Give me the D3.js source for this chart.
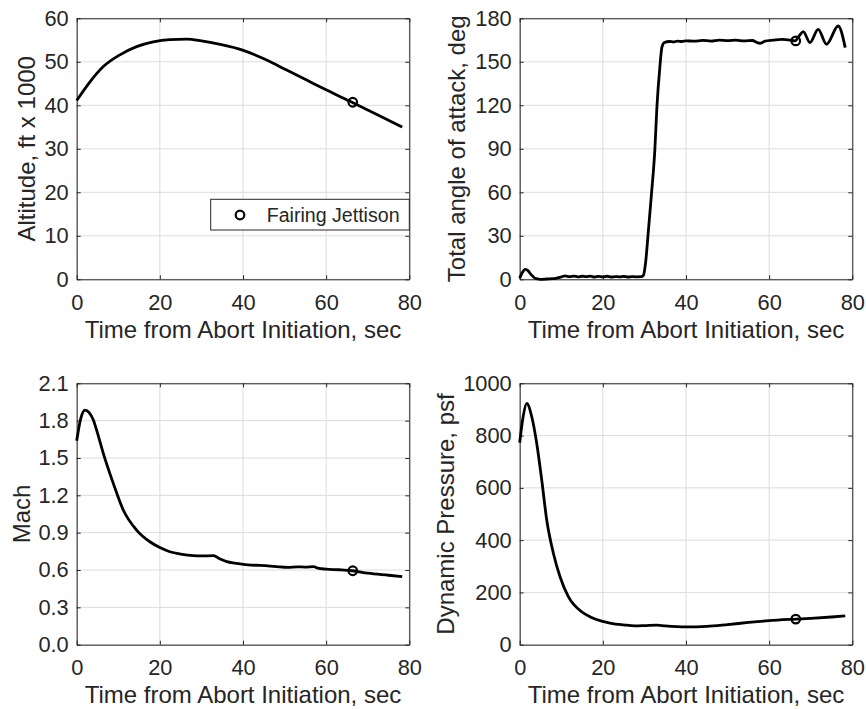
<!DOCTYPE html>
<html>
<head>
<meta charset="utf-8">
<script src="https://cdn.jsdelivr.net/npm/d3@7"></script>
<style>
  body { margin: 0; background: #fff; }
  text { font-family: "Liberation Sans", Arial, sans-serif; fill: #262626; }
</style>
</head>
<body>
<svg width="866" height="709"></svg>
<script>
// ---- data ----
var xTicks = [0, 20, 40, 60, 80];
var xLabel = "Time from Abort Initiation, sec";
var jettisonTime = 66.4;

var altTime  = [0, 3.2, 6.4, 10.4, 14.4, 18.4, 22.4, 26.5, 30, 34.5, 39.9, 45.7, 50.5, 55.3, 60.1, 66.2, 72.2, 78.3];
var altValue = [41.1, 45.4, 48.9, 51.6, 53.5, 54.6, 55.1, 55.2, 54.8, 54.0, 52.7, 50.4, 48.1, 45.8, 43.5, 40.7, 37.9, 35.0];
var altTicks = [0, 10, 20, 30, 40, 50, 60];
var altJettison = 40.7;

var aoaTime  = [0, 0.6, 1.3, 2, 2.5, 3.1, 3.7, 4.5, 5.3, 6.5, 8, 9, 10, 10.9, 12, 13, 14, 15, 16, 17, 18, 19, 20,
                21, 22, 23, 24, 25, 26, 27, 28, 29.3, 29.8, 30.3, 30.9, 31.7, 32.5, 33, 33.7, 34.2, 34.8, 36, 37,
                38, 39, 40, 42, 44, 46, 48, 50, 52, 54, 56, 57, 57.8, 59, 61, 63, 65, 66.2, 67.4, 68.2, 69.8,
                71.8, 73.8, 76.6, 78.3];
var aoaValue = [0.7, 4.5, 6.9, 6, 4.1, 2.2, 0.7, 0.2, 0, 0.2, 0.4, 0.9, 1.6, 2.3, 1.9, 2.2, 1.7, 2.1, 1.8, 2.2, 1.6,
                2.0, 1.7, 2.1, 1.6, 1.9, 1.7, 2.0, 1.6, 1.9, 1.7, 1.8, 3, 12, 31.6, 59, 89, 118.6,
                146, 160, 163.3, 164, 163.7, 164.3, 164, 164.5, 164.2, 164.8, 164.3, 165, 164.6, 164.9, 164.4,
                164.7, 163.4, 162.8, 164.2, 164.9, 165.4, 165, 164.4, 168.5, 170.8, 163.3,
                172.4, 162.1, 174.7, 159.8];
var aoaTicks = [0, 30, 60, 90, 120, 150, 180];
var aoaJettison = 164.4;

var machTime  = [0, 1, 2, 3, 4, 5, 6.4, 8.8, 11.2, 14.4, 17.6, 20, 22.4, 25, 28, 30, 32.9, 34.5, 36.1, 38, 40.1,
                 42, 44, 46.5, 48, 50.9, 53, 55, 57, 58, 60, 63, 66.3, 70, 75, 78.3];
var machValue = [1.639, 1.82, 1.885, 1.865, 1.805, 1.70, 1.537, 1.296, 1.082, 0.921, 0.827, 0.78, 0.747, 0.728,
                 0.715, 0.713, 0.715, 0.688, 0.667, 0.655, 0.646, 0.640, 0.637, 0.632, 0.628, 0.622, 0.625,
                 0.624, 0.627, 0.615, 0.607, 0.602, 0.594, 0.575, 0.558, 0.547];
var machTicks = [0, 0.3, 0.6, 0.9, 1.2, 1.5, 1.8, 2.1];
var machJettison = 0.594;

var qTime  = [0, 0.8, 1.7, 2.9, 4.1, 5.3, 6.5, 8.1, 9.7, 11.7, 14.9, 17, 19.7, 22, 25, 27.7, 30, 33, 35, 40,
              45, 50, 55, 60, 66.5, 70, 75, 78.3];
var qValue = [773, 870, 923, 872, 770, 630, 477, 350, 260, 184, 126, 106, 90, 82, 76, 72, 73, 75, 72, 68,
              70, 77, 85, 92, 98, 101, 106, 110];
var qTicks = [0, 200, 400, 600, 800, 1000];
var qJettison = 98;

var legendLabel = "Fairing Jettison";

// ---- layout ----
var svg = d3.select("svg");

var panels = [
  { t: altTime, v: altValue, ticks: altTicks, mark: altJettison, fmt: d3.format("d"),
    label: "Altitude, ft x 1000", left: 76.7, right: 409.3, top: 18.3, bottom: 279.3, labelX: 35, legend: true },
  { t: aoaTime, v: aoaValue, ticks: aoaTicks, mark: aoaJettison, fmt: d3.format("d"),
    label: "Total angle of attack, deg", left: 519.7, right: 852.3, top: 18.3, bottom: 279.3, labelX: 464.7 },
  { t: machTime, v: machValue, ticks: machTicks, mark: machJettison, fmt: d3.format(".1f"),
    label: "Mach", left: 76.7, right: 409.3, top: 383.3, bottom: 644.7, labelX: 30 },
  { t: qTime, v: qValue, ticks: qTicks, mark: qJettison, fmt: d3.format("d"),
    label: "Dynamic Pressure, psf", left: 519.7, right: 852.3, top: 383.3, bottom: 644.7, labelX: 453.7 }
];

panels.forEach(function (p) {
  var x = d3.scaleLinear().domain([0, 80]).range([p.left, p.right]);
  var y = d3.scaleLinear().domain([p.ticks[0], p.ticks[p.ticks.length - 1]]).range([p.bottom, p.top]);
  var g = svg.append("g");

  // grid
  g.selectAll(".gx").data(xTicks).enter().append("line")
    .attr("x1", x).attr("x2", x).attr("y1", p.top).attr("y2", p.bottom)
    .attr("stroke", "#dcdcdc").attr("stroke-width", 1);
  g.selectAll(".gy").data(p.ticks).enter().append("line")
    .attr("y1", y).attr("y2", y).attr("x1", p.left).attr("x2", p.right)
    .attr("stroke", "#dcdcdc").attr("stroke-width", 1);

  // axes (inward ticks on all four sides, like MATLAB box on)
  function styleAxis(a) {
    a.attr("color", "#262626").attr("font-size", 21.8)
      .attr("font-family", "'Liberation Sans', Arial, sans-serif");
  }
  g.append("g").attr("transform", "translate(0," + p.bottom + ")")
    .call(d3.axisBottom(x).tickValues(xTicks).tickSizeInner(-4).tickSizeOuter(0).tickPadding(15))
    .call(styleAxis);
  g.append("g").attr("transform", "translate(0," + p.top + ")")
    .call(d3.axisTop(x).tickValues(xTicks).tickSizeInner(-4).tickSizeOuter(0).tickFormat(""))
    .call(styleAxis);
  g.append("g").attr("transform", "translate(" + p.left + ",0)")
    .call(d3.axisLeft(y).tickValues(p.ticks).tickFormat(p.fmt).tickSizeInner(-4).tickSizeOuter(0).tickPadding(8))
    .call(styleAxis);
  g.append("g").attr("transform", "translate(" + p.right + ",0)")
    .call(d3.axisRight(y).tickValues(p.ticks).tickSizeInner(-4).tickSizeOuter(0).tickFormat(""))
    .call(styleAxis);

  // curve
  var line = d3.line()
    .x(function (d, i) { return x(p.t[i]); })
    .y(function (d) { return y(d); })
    .curve(d3.curveMonotoneX);
  g.append("path").datum(p.v)
    .attr("d", line)
    .attr("fill", "none").attr("stroke", "#000").attr("stroke-width", 2.8)
    .attr("stroke-linejoin", "round");

  // jettison marker
  g.append("circle")
    .attr("cx", x(jettisonTime)).attr("cy", y(p.mark)).attr("r", 4.3)
    .attr("fill", "none").attr("stroke", "#000").attr("stroke-width", 2.2);

  // labels
  g.append("text")
    .attr("x", (p.left + p.right) / 2).attr("y", p.bottom + 58.5)
    .attr("text-anchor", "middle").attr("font-size", 24)
    .text(xLabel);
  g.append("text")
    .attr("transform", "translate(" + p.labelX + "," + ((p.top + p.bottom) / 2) + ") rotate(-90)")
    .attr("text-anchor", "middle").attr("font-size", 24)
    .text(p.label);

  if (p.legend) {
    var lg = g.append("g");
    lg.append("rect")
      .attr("x", 210.7).attr("y", 199.3).attr("width", p.right - 210.7).attr("height", 30.7)
      .attr("fill", "#fff").attr("stroke", "#262626").attr("stroke-width", 1);
    lg.append("circle")
      .attr("cx", 240).attr("cy", 215).attr("r", 4.3)
      .attr("fill", "none").attr("stroke", "#000").attr("stroke-width", 2.2);
    lg.append("text")
      .attr("x", 266.7).attr("y", 222)
      .attr("font-size", 19.6)
      .text(legendLabel);
  }
});
</script>
</body>
</html>
